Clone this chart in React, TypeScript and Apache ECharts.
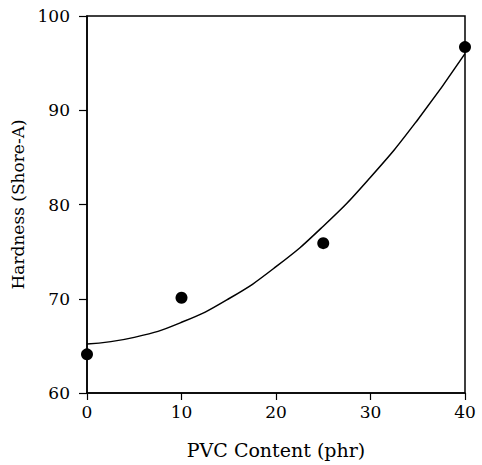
import React, { useEffect, useRef } from "react";
import * as echarts from "echarts";

// Measured points
const pvcContent = [0, 10, 25, 40];
const hardness = [64.1, 70.1, 75.9, 96.7];

// Fitted curve
const curveX = [0, 5, 10, 15, 20, 25, 30, 35, 40];
const curveY = [65.2, 65.9, 67.5, 70.0, 73.4, 77.7, 82.9, 89.0, 96.0];

const xTicks = { min: 0, max: 40, interval: 10 };
const yTicks = { min: 60, max: 100, interval: 10 };

const xTitle = "PVC Content (phr)";
const yTitle = "Hardness (Shore-A)";

const FONT = "DejaVu Serif";

export default function App() {
  const ref = useRef<HTMLDivElement>(null);
  useEffect(() => {
    if (!ref.current) return;
    const chart = echarts.init(ref.current, null, { renderer: "svg" });
    chart.setOption({
      animation: false,
      backgroundColor: "#fff",
      grid: {
        left: 87,
        right: 17,
        top: 16,
        bottom: 72,
        show: true,
        borderColor: "#000",
        borderWidth: 1.5,
        backgroundColor: "transparent",
      },
      xAxis: {
        type: "value",
        min: xTicks.min,
        max: xTicks.max,
        interval: xTicks.interval,
        name: xTitle,
        nameLocation: "middle",
        nameGap: 47,
        nameTextStyle: { fontFamily: FONT, fontSize: 19, color: "#000" },
        axisLine: { show: true, lineStyle: { color: "#000", width: 1.5 } },
        axisTick: { show: true, inside: false, length: 7, lineStyle: { color: "#000", width: 1.2 } },
        axisLabel: { fontFamily: FONT, fontSize: 17, color: "#000", margin: 10 },
        splitLine: { show: false },
      },
      yAxis: {
        type: "value",
        min: yTicks.min,
        max: yTicks.max,
        interval: yTicks.interval,
        name: yTitle,
        nameLocation: "middle",
        nameGap: 60,
        nameTextStyle: { fontFamily: FONT, fontSize: 17, color: "#000" },
        axisLine: { show: true, lineStyle: { color: "#000", width: 1.5 } },
        axisTick: { show: true, inside: false, length: 8, lineStyle: { color: "#000", width: 1.2 } },
        axisLabel: { fontFamily: FONT, fontSize: 17, color: "#000", margin: 17 },
        splitLine: { show: false },
      },
      series: [
        {
          type: "line",
          data: curveX.map((x, i) => [x, curveY[i]]),
          smooth: true,
          showSymbol: false,
          lineStyle: { color: "#000", width: 1.5 },
          z: 2,
        },
        {
          type: "scatter",
          data: pvcContent.map((x, i) => [x, hardness[i]]),
          symbol: "circle",
          symbolSize: 12,
          itemStyle: { color: "#000", opacity: 1 },
          clip: false,
          z: 3,
        },
      ],
    });
    return () => chart.dispose();
  }, []);
  return <div ref={ref} style={{ width: 482, height: 465, position: "absolute", left: 0, top: 0 }} />;
}
